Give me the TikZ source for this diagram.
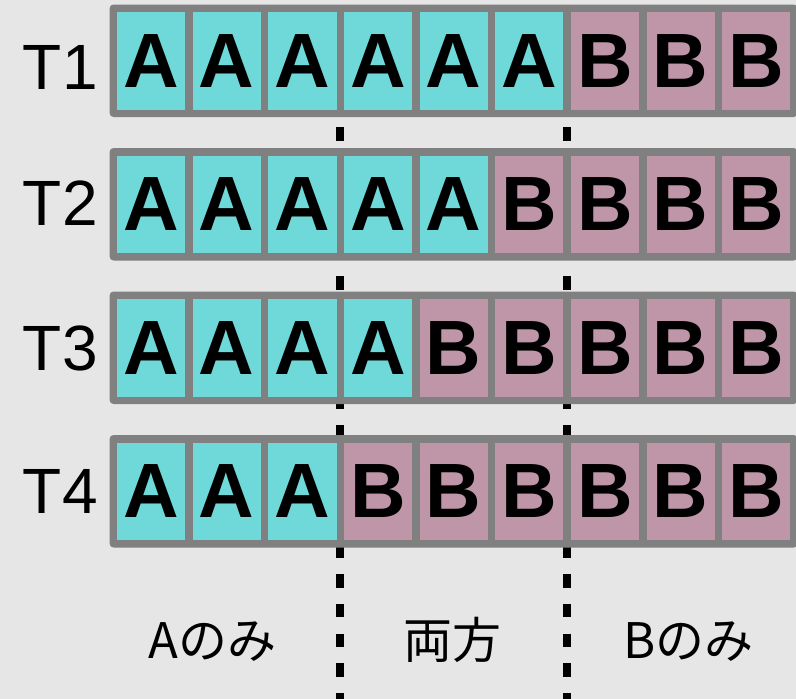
\documentclass[tikz,border=0pt]{standalone}
\usepackage{fontspec}
\setmainfont{Liberation Sans}
\newfontfamily\jpfont{Noto Sans CJK JP}
\definecolor{bgc}{HTML}{E6E6E6}
\definecolor{acol}{HTML}{6FD9D9}
\definecolor{bcol}{HTML}{BF96A8}
\definecolor{framec}{HTML}{808080}
\tikzset{
  rowframe/.style={fill=framec, rounded corners=4pt, minimum width=688.2pt, minimum height=112.5pt, inner sep=0pt},
  cellbase/.style={minimum width=68.15pt, minimum height=97.5pt, inner sep=0pt, font=\fontsize{77}{80}\selectfont\bfseries},
  acell/.style={cellbase, fill=acol},
  bcell/.style={cellbase, fill=bcol},
  tlabel/.style={inner sep=0pt, font=\fontsize{64}{70}\selectfont},
  jplabel/.style={inner sep=0pt, font=\jpfont\fontsize{49}{55}\selectfont},
  sepline/.style={line width=8pt, dash pattern=on 13.5pt off 16.3pt}
}
\begin{document}
\begin{tikzpicture}[x=1pt,y=-1pt]
\useasboundingbox (0,0) rectangle (796,699);
\fill[bgc] (0,0) rectangle (796,699);
% dashed separators (behind rows)
\coordinate (d1s) at (340.25,7.8);
\coordinate (d1e) at (340.25,699);
\coordinate (d2s) at (567.2,7.8);
\coordinate (d2e) at (567.2,699);
\draw[sepline] (d1s) -- (d1e);
\draw[sepline] (d2s) -- (d2e);
% rows
\foreach \r/\na/\tb in {1/6/89.3, 2/5/225, 3/4/370, 4/3/513.3}{
  \pgfmathsetmacro\yc{60.75+143.5*(\r-1)}
  \node[rowframe] (row\r) at (453.65,\yc) {};
  \node[tlabel, anchor=base west] (t\r) at (22.7,\tb) {T\r};
  \foreach \i in {1,...,9}{
    \pgfmathsetmacro\xc{113.3+75.65*(\i-0.5)}
    \ifnum\i>\na
      \node[bcell] (c\r-\i) at (\xc,\yc) {B};
    \else
      \node[acell] (c\r-\i) at (\xc,\yc) {A};
    \fi
  }
}
% bottom labels
\node[jplabel, anchor=base] (la) at (212.7,658.3) {Aのみ};
\node[jplabel, anchor=base] (lb) at (452.5,658.3) {両方};
\node[jplabel, anchor=base] (lc) at (688.3,658.3) {Bのみ};
\end{tikzpicture}
\end{document}
